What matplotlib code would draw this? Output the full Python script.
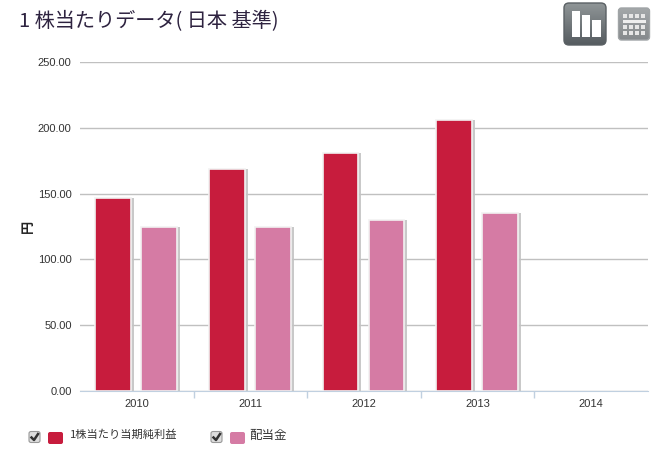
import matplotlib
matplotlib.use("Agg")
import matplotlib.pyplot as plt
import matplotlib.patheffects as pe
from matplotlib.patches import FancyBboxPatch, Rectangle
import numpy as np

plt.rcParams['font.family'] = ['Noto Sans CJK JP', 'DejaVu Sans']

years = ["2010", "2011", "2012", "2013", "2014"]
eps = [146.5, 169, 181, 206, np.nan]
dividend = [125, 125, 130, 135, np.nan]
yticks = [0, 50, 100, 150, 200, 250]
ytick_labels = ["0.00", "50.00", "100.00", "150.00", "200.00", "250.00"]
eps_name = "1株当たり当期純利益"
dividend_name = "配当金"
title = "1 株当たりデータ( 日本 基準)"

RED = "#c71c3d"
PINK = "#d57ba4"
W, H = 666, 454

fig = plt.figure(figsize=(W / 100, H / 100), dpi=100)
ax = fig.add_axes([80 / W, 1 - 391 / H, 568 / W, 329 / H])

x = np.arange(len(years))
shadow = [pe.SimplePatchShadow(offset=(2, 0), shadow_rgbFace="#c4c4c4", alpha=0.9), pe.Normal()]
for off, vals, color in [(-0.207, eps, RED), (0.198, dividend, PINK)]:
    bars = ax.bar(x + off, vals, 0.315, color=color, edgecolor="#f2f2f2", linewidth=1.2, zorder=3)
    for b in bars:
        b.set_path_effects(shadow)

ax.set_xlim(-0.5, 4.5)
ax.set_ylim(0, 250)
ax.set_yticks(yticks)
ax.set_yticklabels(ytick_labels, fontsize=8, color="#333333", family="Liberation Sans")
ax.set_xticks(x)
ax.set_xticklabels(years, fontsize=8, color="#333333", family="Liberation Sans")
ax.set_xticks(np.arange(0.5, 4), minor=True)
ax.tick_params(axis="y", length=0, pad=6)
ax.tick_params(axis="x", which="major", length=0, pad=6)
ax.tick_params(axis="x", which="minor", length=5, color="#c0d0e0", width=1)
ax.grid(axis="y", color="#c0c0c0", linewidth=1, zorder=0)
ax.set_axisbelow(True)
for s in ["top", "right", "left"]:
    ax.spines[s].set_visible(False)
ax.spines["bottom"].set_color("#c0d0e0")
ax.spines["bottom"].set_zorder(4)

fig.text(28 / W, 1 - 226 / H, "円", fontsize=9.5, rotation=90, ha="center", va="center",
         color="#222222", fontweight="bold")
fig.text(19 / W, 1 - 21.5 / H, title, fontsize=14.5, ha="left", va="center", color="#2e2340")

overlay = fig.add_axes([0, 0, 1, 1], facecolor="none")


def px_box(x0, y0, w, h, color, edge="none", round_=2, lw=0):
    # position given in image pixels, y from the top
    p = FancyBboxPatch((x0, H - y0 - h), w, h, boxstyle=f"round,pad=0,rounding_size={round_}",
                       facecolor=color, edgecolor=edge, linewidth=lw,
                       transform=overlay.transData, zorder=5)
    overlay.add_patch(p)
    return p


def gradient_box(x0, y0, w, h, top, bottom, edge, round_):
    p = px_box(x0, y0, w, h, "none", edge=edge, round_=round_, lw=1)
    cmap = matplotlib.colors.LinearSegmentedColormap.from_list("g", [top, bottom])
    im = overlay.imshow(np.linspace(0, 1, 64).reshape(-1, 1), cmap=cmap, aspect="auto",
                        extent=(x0, x0 + w, H - y0 - h, H - y0), zorder=4)
    im.set_clip_path(p)


# legend
for cx, swatch, name, tx, size in [(28, RED, eps_name, 70, 8.1), (210, PINK, dividend_name, 249, 9)]:
    px_box(cx + 1, 431.5, 11, 11, "#dddddd", edge="#999999", lw=0.8)
    overlay.plot([cx + 3.5, cx + 6, cx + 10], [H - 437.5, H - 440, H - 434], color="#333333", lw=1.8, zorder=7)
    px_box(cx + 20, 432, 15, 12, swatch, round_=2)
    overlay.text(tx, H - 435, name, fontsize=size, ha="left", va="center", color="#333333")

# chart / table view icons
gradient_box(564, 3, 42, 42, "#8f9597", "#565c60", "#5a6064", 5)
for bx, top, bw in [(572, 11, 8), (582, 15, 8), (592, 20, 9)]:
    overlay.add_patch(Rectangle((bx, H - 37), bw, 37 - top, facecolor="white", zorder=6))
gradient_box(618.5, 8, 31, 32, "#a4a8aa", "#85898c", "#a0a4a6", 3)
for ry in [14, 25, 30.5]:
    for c in range(4):
        overlay.add_patch(Rectangle((622.5 + c * 6.1, H - ry - 4), 4.6, 4, facecolor="#e6e6e6", zorder=6))
overlay.add_patch(Rectangle((622.5, H - 22.5), 23, 3, facecolor="#eeeeee", zorder=6))

overlay.set_xlim(0, W)
overlay.set_ylim(0, H)
overlay.axis("off")

fig.savefig("out.png", dpi=100)
